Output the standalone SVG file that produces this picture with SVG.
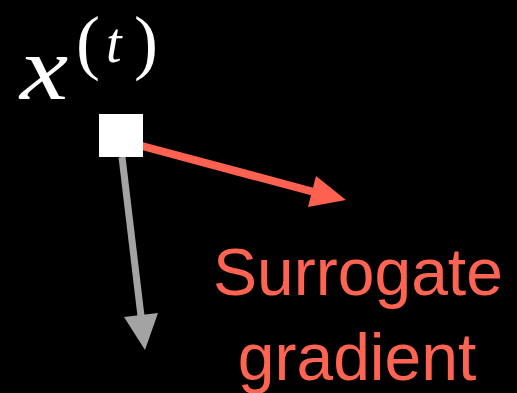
<svg xmlns="http://www.w3.org/2000/svg" width="517" height="393" viewBox="0 0 517 393">
<style>
.math{font-family:"Liberation Serif","DejaVu Serif",serif;fill:#fff}
.it{font-style:italic}
.lbl{font-family:"Liberation Sans",Arial,sans-serif;font-size:66px;fill:#FF6452;text-anchor:middle}
</style>
<rect width="517" height="393" fill="#000"/>
<g id="connectors">
<line x1="142" y1="146" x2="314" y2="192" stroke="#FF6150" stroke-width="8"/>
<polygon points="346,200 316,176 308,207" fill="#FF6150"/>
<line x1="122" y1="157" x2="141" y2="316" stroke="#A3A3A3" stroke-width="7"/>
<polygon points="145,350 158,313 124,317" fill="#A3A3A3"/>
</g>
<g id="node-x">
<rect x="99" y="114" width="44" height="43" fill="#fff"/>
<text class="math it" transform="translate(20,99) scale(1.18,1)" font-size="92">x</text>
<text class="math" x="76" y="66" font-size="72">(</text>
<text class="math it" x="106" y="62" font-size="56">t</text>
<text class="math" x="134" y="66" font-size="72">)</text>
</g>
<g id="label">
<text class="lbl" x="358" y="295">Surrogate</text>
<text class="lbl" x="357" y="380">gradient</text>
</g>
</svg>
